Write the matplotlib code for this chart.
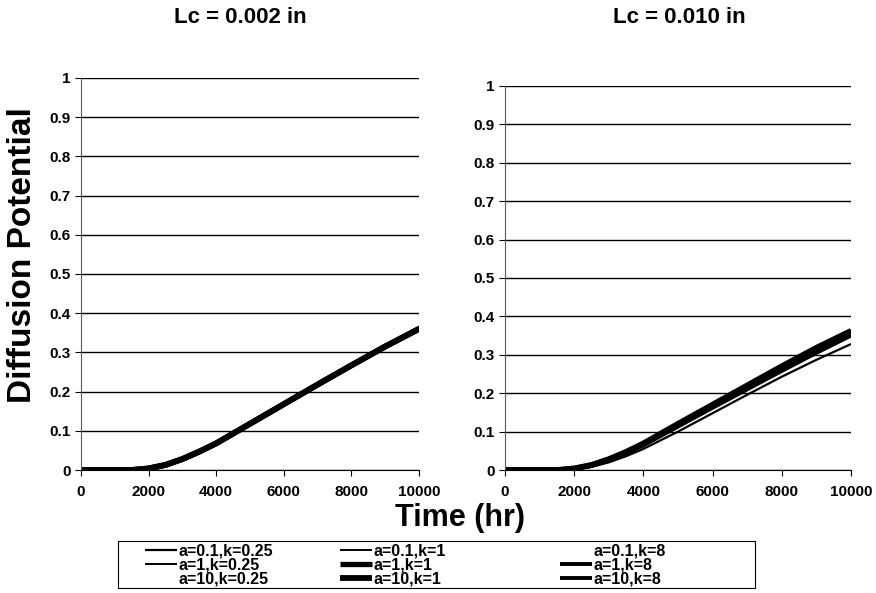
import numpy as np
import matplotlib.pyplot as plt
from matplotlib.patches import Rectangle

plt.rcParams['font.family'] = ['Liberation Sans', 'DejaVu Sans']

# time axis (hr)
time = [0, 1000, 1500, 2000, 2500, 3000, 3500, 4000, 5000, 6000, 7000, 8000, 9000, 10000]

# Lc = 0.002 in : all nine curves lie on top of each other
left_dp = [0, 0, 0, 0.004, 0.013, 0.028, 0.047, 0.068, 0.118, 0.168, 0.218, 0.267, 0.315, 0.360]

# Lc = 0.010 in
right_upper = [0, 0, 0, 0.004, 0.013, 0.028, 0.047, 0.069, 0.120, 0.170, 0.220, 0.270, 0.318, 0.362]
right_mid = [0, 0, 0, 0.003, 0.011, 0.025, 0.043, 0.064, 0.113, 0.162, 0.210, 0.258, 0.305, 0.350]
right_low = [0, 0, 0, 0.002, 0.008, 0.020, 0.036, 0.055, 0.100, 0.148, 0.196, 0.243, 0.287, 0.328]

labels = ["a=0.1,k=0.25", "a=1,k=0.25", "a=10,k=0.25",
          "a=0.1,k=1", "a=1,k=1", "a=10,k=1",
          "a=0.1,k=8", "a=1,k=8", "a=10,k=8"]
right_data = [right_low, right_mid, right_upper,
              right_mid, right_upper, right_upper,
              right_upper, right_mid, right_upper]
widths = [1.6, 1.4, 1.4, 1.4, 3.8, 4.2, 1.0, 2.8, 2.8]
colors = ["black", "black", "white", "black", "black", "black", "white", "black", "black"]

fig = plt.figure(figsize=(8.76, 5.93), dpi=100)
ax1 = fig.add_axes([0.0925, 0.2074, 0.3858, 0.6611])
ax2 = fig.add_axes([0.5765, 0.2074, 0.3950, 0.6476])

order = [2, 6, 4, 5, 7, 8, 1, 3, 0]  # white ones first, then thick, then thin
handles = [None] * 9
for i in order:
    ax1.plot(time, left_dp, color=colors[i], lw=widths[i], solid_capstyle='butt')
    h, = ax2.plot(time, right_data[i], color=colors[i], lw=widths[i], solid_capstyle='butt')
    handles[i] = h
ax1.plot(time, left_dp, color='black', lw=4.2)

for ax in (ax1, ax2):
    ax.set_xlim(0, 10000)
    ax.set_ylim(0, 1)
    ax.set_xticks(range(0, 10001, 2000))
    ax.set_yticks(np.arange(0, 1.01, 0.1))
    ax.set_yticklabels(['0', '0.1', '0.2', '0.3', '0.4', '0.5', '0.6', '0.7', '0.8', '0.9', '1'])
    ax.grid(axis='y', color='black', lw=1)
    ax.set_axisbelow(True)
    for s in ('top', 'right'):
        ax.spines[s].set_visible(False)
    ax.spines['left'].set_color('0.35')
    ax.spines['bottom'].set_color('black')
    ax.tick_params(labelsize=11, length=4, width=0.8, direction='out')
    ax.tick_params(axis='x', pad=7)
    for t in ax.get_xticklabels() + ax.get_yticklabels():
        t.set_fontweight('bold')

fig.text(0.274, 0.971, "Lc = 0.002 in", ha='center', va='center', fontsize=16, fontweight='bold')
fig.text(0.776, 0.970, "Lc = 0.010 in", ha='center', va='center', fontsize=16, fontweight='bold')
fig.text(0.026, 0.57, "Diffusion Potential", rotation=90, ha='center', va='center',
         fontsize=24, fontweight='bold')
fig.text(0.525, 0.126, "Time (hr)", ha='center', va='center', fontsize=22, fontweight='bold')

# legend: three columns placed like the Excel legend, inside one box
col_x = [0.1655, 0.388, 0.639]
for c in range(3):
    leg = fig.legend(handles[3 * c:3 * c + 3], labels[3 * c:3 * c + 3], loc='center left',
                     bbox_to_anchor=(col_x[c], 0.0472), frameon=False, fontsize=11.5,
                     handlelength=2.0, handletextpad=0.1, labelspacing=-0.05,
                     borderpad=0, borderaxespad=0)
    for t in leg.get_texts():
        t.set_fontweight('bold')
fig.patches.append(Rectangle((0.1347, 0.0084), 0.727, 0.0793, transform=fig.transFigure,
                             fill=False, edgecolor='black', lw=0.8))

fig.savefig('out.png', dpi=100)
